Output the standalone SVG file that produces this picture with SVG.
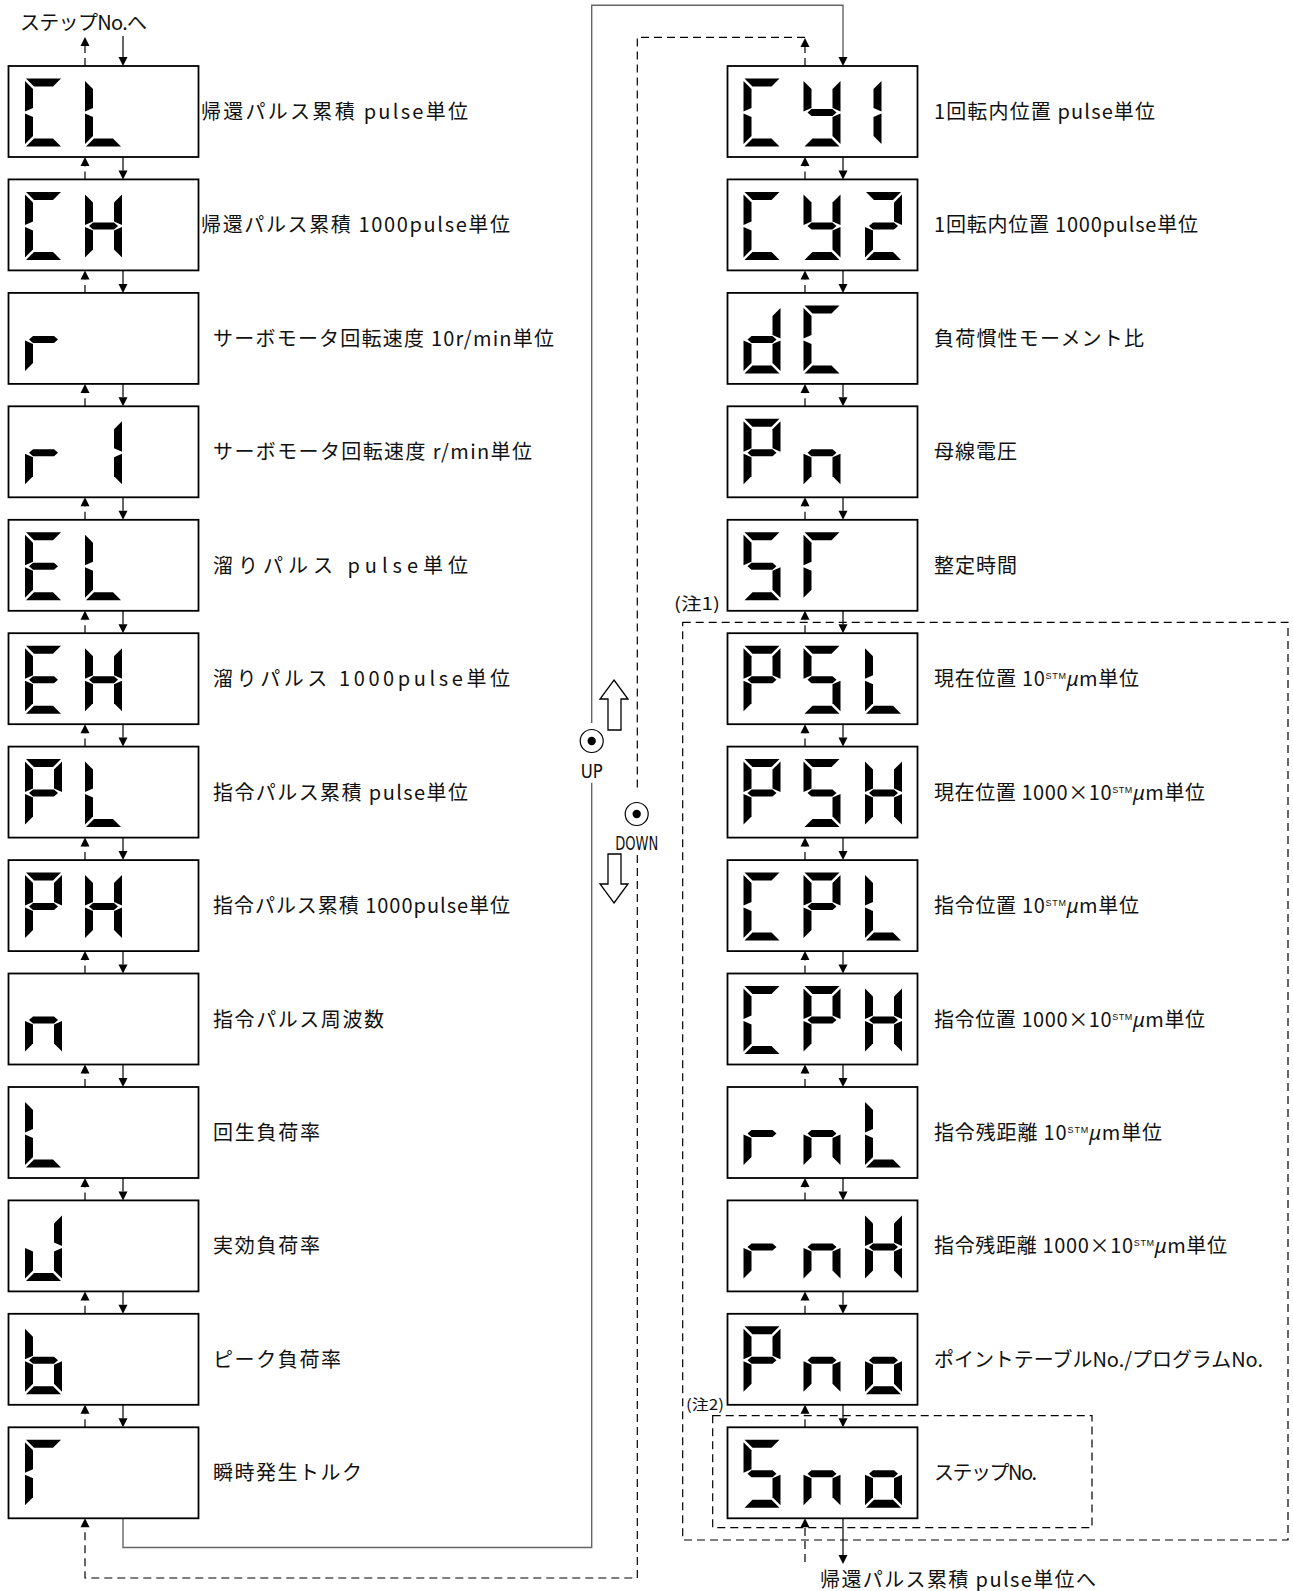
<svg xmlns="http://www.w3.org/2000/svg" xmlns:xlink="http://www.w3.org/1999/xlink" width="1293" height="1591" viewBox="0 0 1293 1591">
<style>
.box{fill:#fff;stroke:#000;stroke-width:1.8}
.lbl{font-family:'Noto Sans CJK JP','Noto Sans',sans-serif;font-size:20px;fill:#111}
.sup{font-family:'Liberation Sans',sans-serif;font-size:9px}
.mu{font-family:'Noto Sans','DejaVu Sans',sans-serif;font-style:italic}
.key{font-family:'DejaVu Sans Condensed','Liberation Sans Narrow','Liberation Sans',sans-serif;font-size:20px;fill:#111}
.note{font-family:'Noto Sans CJK JP',sans-serif;fill:#111}
.dash{fill:none;stroke:#000;stroke-width:1.2;stroke-dasharray:8 5}
.sol{fill:none;stroke:#000;stroke-width:1.2}
.loop{fill:none;stroke:#666;stroke-width:1.4}
.ah{fill:#000}
</style>
<defs>
<polygon id="sa" points="1,0 36,0 28,8 9,8"/>
<polygon id="sb" points="37,2.5 37,33 29,29.5 29,10.5"/>
<polygon id="sc" points="37,35 37,65.5 29,57.5 29,38.5"/>
<polygon id="sd" points="9,60 28,60 36,68 1,68"/>
<polygon id="se" points="0,35 8,38.5 8,57.5 0,65.5"/>
<polygon id="sf" points="0,2.5 8,10.5 8,29.5 0,33"/>
<polygon id="sg" points="4,34 8,30.5 29,30.5 33,34 29,37.5 8,37.5"/>
<g id="cC"><use href="#sa"/><use href="#sf"/><use href="#se"/><use href="#sd"/></g>
<g id="cL"><use href="#sf"/><use href="#se"/><use href="#sd"/></g>
<g id="cH"><use href="#sf"/><use href="#se"/><use href="#sb"/><use href="#sc"/><use href="#sg"/></g>
<g id="cr"><use href="#se"/><use href="#sg"/></g>
<g id="c1"><use href="#sb"/><use href="#sc"/></g>
<g id="cE"><use href="#sa"/><use href="#sf"/><use href="#sg"/><use href="#se"/><use href="#sd"/></g>
<g id="cP"><use href="#sa"/><use href="#sb"/><use href="#sf"/><use href="#sg"/><use href="#se"/></g>
<g id="cn"><use href="#sc"/><use href="#se"/><use href="#sg"/></g>
<g id="cJ"><use href="#sb"/><use href="#sc"/><use href="#sd"/><use href="#se"/></g>
<g id="cb"><use href="#sf"/><use href="#se"/><use href="#sd"/><use href="#sc"/><use href="#sg"/></g>
<g id="cT"><use href="#sa"/><use href="#sf"/><use href="#se"/></g>
<g id="cy"><use href="#sf"/><use href="#sb"/><use href="#sg"/><use href="#sc"/><use href="#sd"/></g>
<g id="c2"><use href="#sa"/><use href="#sb"/><use href="#sg"/><use href="#se"/><use href="#sd"/></g>
<g id="cd"><use href="#sb"/><use href="#sc"/><use href="#sd"/><use href="#se"/><use href="#sg"/></g>
<g id="cS"><use href="#sa"/><use href="#sf"/><use href="#sg"/><use href="#sc"/><use href="#sd"/></g>
<g id="co"><use href="#sc"/><use href="#sd"/><use href="#se"/><use href="#sg"/></g>
<polygon id="au" points="0,0 -4.5,9 4.5,9"/>
<polygon id="ad" points="0,0 -4.5,-9 4.5,-9"/>
</defs>
<rect width="1293" height="1591" fill="#fff"/>

<!-- note frames -->
<g id="note1">
<rect x="682.7" y="622.3" width="605.3" height="917.7" class="dash" stroke-width="1.1"/>
<text class="note" x="674" y="609.5" font-size="17" textLength="46" lengthAdjust="spacingAndGlyphs">(注1)</text>
</g>
<g id="note2">
<rect x="712.7" y="1415.7" width="379.3" height="112" class="dash" stroke-width="1.1"/>
<text class="note" x="686" y="1410" font-size="15" textLength="38" lengthAdjust="spacingAndGlyphs">(注2)</text>
</g>

<!-- connectors -->
<g id="connectors">
<path class="loop" d="M123,1518.3V1547.5H591.7V782.7M591.7,723V5.3H843V57"/>
<path class="dash" d="M805,66V47M805,37.3H637.3V792M637.3,855V1578H85V1527.3"/>
<path class="dash" d="M85,66V46M805,1562V1527.3"/>
<path class="sol" d="M123,36V57M843,1518.3V1555"/>
<path class="dash" d="M85,179.4V166M85,292.9V279.4M85,406.3V392.9M85,519.8V506.3M85,633.2V619.8M85,746.6V733.2M85,860.1V846.6M85,973.5V960.1M85,1087V1073.5M85,1200.4V1187M85,1313.8V1300.4M85,1427.3V1413.8
M805,179.4V166M805,292.9V279.4M805,406.3V392.9M805,519.8V506.3M805,633.2V619.8M805,746.6V733.2M805,860.1V846.6M805,973.5V960.1M805,1087V1073.5M805,1200.4V1187M805,1313.8V1300.4M805,1427.3V1413.8"/>
<path class="sol" d="M123,157V170.4M123,270.4V283.9M123,383.9V397.3M123,497.3V510.8M123,610.8V624.2M123,724.2V737.6M123,837.6V851.1M123,951.1V964.5M123,1064.5V1078M123,1178V1191.4M123,1291.4V1304.8M123,1404.8V1418.3
M843,157V170.4M843,270.4V283.9M843,383.9V397.3M843,497.3V510.8M843,610.8V624.2M843,724.2V737.6M843,837.6V851.1M843,951.1V964.5M843,1064.5V1078M843,1178V1191.4M843,1291.4V1304.8M843,1404.8V1418.3"/>
<g class="ah">
<use href="#au" x="85" y="37"/><use href="#au" x="805" y="38"/><use href="#au" x="85" y="1518.3"/><use href="#au" x="805" y="1518.3"/>
<use href="#ad" x="123" y="66"/><use href="#ad" x="843" y="66"/><use href="#ad" x="843" y="1564"/>
<use href="#au" x="85" y="157"/><use href="#au" x="85" y="270.4"/><use href="#au" x="85" y="383.9"/><use href="#au" x="85" y="497.3"/><use href="#au" x="85" y="610.8"/><use href="#au" x="85" y="724.2"/><use href="#au" x="85" y="837.6"/><use href="#au" x="85" y="951.1"/><use href="#au" x="85" y="1064.5"/><use href="#au" x="85" y="1178"/><use href="#au" x="85" y="1291.4"/><use href="#au" x="85" y="1404.8"/>
<use href="#au" x="805" y="157"/><use href="#au" x="805" y="270.4"/><use href="#au" x="805" y="383.9"/><use href="#au" x="805" y="497.3"/><use href="#au" x="805" y="610.8"/><use href="#au" x="805" y="724.2"/><use href="#au" x="805" y="837.6"/><use href="#au" x="805" y="951.1"/><use href="#au" x="805" y="1064.5"/><use href="#au" x="805" y="1178"/><use href="#au" x="805" y="1291.4"/><use href="#au" x="805" y="1404.8"/>
<use href="#ad" x="123" y="179.4"/><use href="#ad" x="123" y="292.9"/><use href="#ad" x="123" y="406.3"/><use href="#ad" x="123" y="519.8"/><use href="#ad" x="123" y="633.2"/><use href="#ad" x="123" y="746.6"/><use href="#ad" x="123" y="860.1"/><use href="#ad" x="123" y="973.5"/><use href="#ad" x="123" y="1087"/><use href="#ad" x="123" y="1200.4"/><use href="#ad" x="123" y="1313.8"/><use href="#ad" x="123" y="1427.3"/>
<use href="#ad" x="843" y="179.4"/><use href="#ad" x="843" y="292.9"/><use href="#ad" x="843" y="406.3"/><use href="#ad" x="843" y="519.8"/><use href="#ad" x="843" y="633.2"/><use href="#ad" x="843" y="746.6"/><use href="#ad" x="843" y="860.1"/><use href="#ad" x="843" y="973.5"/><use href="#ad" x="843" y="1087"/><use href="#ad" x="843" y="1200.4"/><use href="#ad" x="843" y="1313.8"/><use href="#ad" x="843" y="1427.3"/>
</g>
<text class="lbl" x="20" y="29.5" textLength="127" lengthAdjust="spacing">ステップNo.へ</text>
<text class="lbl" x="820" y="1587" textLength="276" lengthAdjust="spacing">帰還パルス累積 pulse単位へ</text>
</g>

<!-- UP / DOWN keys -->
<g id="keys">
<circle cx="591.7" cy="741" r="11.5" fill="#fff" stroke="#000" stroke-width="1.2"/>
<circle cx="591.7" cy="741" r="4.2" fill="#000"/>
<text class="key" x="591.7" y="777.5" text-anchor="middle" textLength="22" lengthAdjust="spacingAndGlyphs">UP</text>
<circle cx="636.7" cy="814" r="11.5" fill="#fff" stroke="#000" stroke-width="1.2"/>
<circle cx="636.7" cy="814" r="4.2" fill="#000"/>
<text class="key" x="636.7" y="850" text-anchor="middle" textLength="43" lengthAdjust="spacingAndGlyphs">DOWN</text>
<polygon points="614,680 628,699 621,699 621,730 608,730 608,699 600,699" fill="#fff" stroke="#000" stroke-width="1.3"/>
<polygon points="614,903 628,884 621,884 621,854 608,854 608,884 600,884" fill="#fff" stroke="#000" stroke-width="1.3"/>
</g>

<!-- left column -->
<g id="L01" transform="translate(8.5,66)"><rect class="box" width="190" height="91"/><use href="#cC" x="16.5" y="12.5"/><use href="#cL" x="76.5" y="12.5"/><text class="lbl" x="192.5" y="53" textLength="267" lengthAdjust="spacing">帰還パルス累積 pulse単位</text></g>
<g id="L02" transform="translate(8.5,179.4)"><rect class="box" width="190" height="91"/><use href="#cC" x="16.5" y="12.5"/><use href="#cH" x="76.5" y="12.5"/><text class="lbl" x="192.5" y="53" textLength="309" lengthAdjust="spacing">帰還パルス累積 1000pulse単位</text></g>
<g id="L03" transform="translate(8.5,292.9)"><rect class="box" width="190" height="91"/><use href="#cr" x="16.5" y="12.5"/><text class="lbl" x="204.5" y="53" textLength="341" lengthAdjust="spacing">サーボモータ回転速度 10r/min単位</text></g>
<g id="L04" transform="translate(8.5,406.3)"><rect class="box" width="190" height="91"/><use href="#cr" x="16.5" y="12.5"/><use href="#c1" x="76.5" y="12.5"/><text class="lbl" x="204.5" y="53" textLength="319" lengthAdjust="spacing">サーボモータ回転速度 r/min単位</text></g>
<g id="L05" transform="translate(8.5,519.8)"><rect class="box" width="190" height="91"/><use href="#cE" x="16.5" y="12.5"/><use href="#cL" x="76.5" y="12.5"/><text class="lbl" x="204.5" y="53" textLength="255" lengthAdjust="spacing">溜りパルス pulse単位</text></g>
<g id="L06" transform="translate(8.5,633.2)"><rect class="box" width="190" height="91"/><use href="#cE" x="16.5" y="12.5"/><use href="#cH" x="76.5" y="12.5"/><text class="lbl" x="204.5" y="53" textLength="297" lengthAdjust="spacing">溜りパルス 1000pulse単位</text></g>
<g id="L07" transform="translate(8.5,746.6)"><rect class="box" width="190" height="91"/><use href="#cP" x="16.5" y="12.5"/><use href="#cL" x="76.5" y="12.5"/><text class="lbl" x="204.5" y="53" textLength="255" lengthAdjust="spacing">指令パルス累積 pulse単位</text></g>
<g id="L08" transform="translate(8.5,860.1)"><rect class="box" width="190" height="91"/><use href="#cP" x="16.5" y="12.5"/><use href="#cH" x="76.5" y="12.5"/><text class="lbl" x="204.5" y="53" textLength="297" lengthAdjust="spacing">指令パルス累積 1000pulse単位</text></g>
<g id="L09" transform="translate(8.5,973.5)"><rect class="box" width="190" height="91"/><use href="#cn" x="16.5" y="12.5"/><text class="lbl" x="204.5" y="53" textLength="171" lengthAdjust="spacing">指令パルス周波数</text></g>
<g id="L10" transform="translate(8.5,1087)"><rect class="box" width="190" height="91"/><use href="#cL" x="16.5" y="12.5"/><text class="lbl" x="204.5" y="53" textLength="107" lengthAdjust="spacing">回生負荷率</text></g>
<g id="L11" transform="translate(8.5,1200.4)"><rect class="box" width="190" height="91"/><use href="#cJ" x="16.5" y="12.5"/><text class="lbl" x="204.5" y="53" textLength="107" lengthAdjust="spacing">実効負荷率</text></g>
<g id="L12" transform="translate(8.5,1313.8)"><rect class="box" width="190" height="91"/><use href="#cb" x="16.5" y="12.5"/><text class="lbl" x="204.5" y="53" textLength="128" lengthAdjust="spacing">ピーク負荷率</text></g>
<g id="L13" transform="translate(8.5,1427.3)"><rect class="box" width="190" height="91"/><use href="#cT" x="16.5" y="12.5"/><text class="lbl" x="204.5" y="53" textLength="149" lengthAdjust="spacing">瞬時発生トルク</text></g>

<!-- right column -->
<g id="R01" transform="translate(727.5,66)"><rect class="box" width="190" height="91"/><use href="#cC" x="16" y="12.5"/><use href="#cy" x="76" y="12.5"/><use href="#c1" x="117" y="12.5"/><text class="lbl" x="206.5" y="53" textLength="221" lengthAdjust="spacing">1回転内位置 pulse単位</text></g>
<g id="R02" transform="translate(727.5,179.4)"><rect class="box" width="190" height="91"/><use href="#cC" x="16" y="12.5"/><use href="#cy" x="76" y="12.5"/><use href="#c2" x="137.5" y="12.5"/><text class="lbl" x="206.5" y="53" textLength="264" lengthAdjust="spacing">1回転内位置 1000pulse単位</text></g>
<g id="R03" transform="translate(727.5,292.9)"><rect class="box" width="190" height="91"/><use href="#cd" x="16" y="12.5"/><use href="#cC" x="76" y="12.5"/><text class="lbl" x="206.5" y="53" textLength="210" lengthAdjust="spacing">負荷慣性モーメント比</text></g>
<g id="R04" transform="translate(727.5,406.3)"><rect class="box" width="190" height="91"/><use href="#cP" x="16" y="12.5"/><use href="#cn" x="76" y="12.5"/><text class="lbl" x="206.5" y="53" textLength="83" lengthAdjust="spacing">母線電圧</text></g>
<g id="R05" transform="translate(727.5,519.8)"><rect class="box" width="190" height="91"/><use href="#cS" x="16" y="12.5"/><use href="#cT" x="76" y="12.5"/><text class="lbl" x="206.5" y="53" textLength="83" lengthAdjust="spacing">整定時間</text></g>
<g id="R06" transform="translate(727.5,633.2)"><rect class="box" width="190" height="91"/><use href="#cP" x="16" y="12.5"/><use href="#cS" x="76" y="12.5"/><use href="#cL" x="137.5" y="12.5"/><text class="lbl" x="206.5" y="53" textLength="205" lengthAdjust="spacing">現在位置 10<tspan class="sup" dy="-7">STM</tspan><tspan class="mu" dy="7">μ</tspan>m単位</text></g>
<g id="R07" transform="translate(727.5,746.6)"><rect class="box" width="190" height="91"/><use href="#cP" x="16" y="12.5"/><use href="#cS" x="76" y="12.5"/><use href="#cH" x="137.5" y="12.5"/><text class="lbl" x="206.5" y="53" textLength="271" lengthAdjust="spacing">現在位置 1000×10<tspan class="sup" dy="-7">STM</tspan><tspan class="mu" dy="7">μ</tspan>m単位</text></g>
<g id="R08" transform="translate(727.5,860.1)"><rect class="box" width="190" height="91"/><use href="#cC" x="16" y="12.5"/><use href="#cP" x="76" y="12.5"/><use href="#cL" x="137.5" y="12.5"/><text class="lbl" x="206.5" y="53" textLength="205" lengthAdjust="spacing">指令位置 10<tspan class="sup" dy="-7">STM</tspan><tspan class="mu" dy="7">μ</tspan>m単位</text></g>
<g id="R09" transform="translate(727.5,973.5)"><rect class="box" width="190" height="91"/><use href="#cC" x="16" y="12.5"/><use href="#cP" x="76" y="12.5"/><use href="#cH" x="137.5" y="12.5"/><text class="lbl" x="206.5" y="53" textLength="271" lengthAdjust="spacing">指令位置 1000×10<tspan class="sup" dy="-7">STM</tspan><tspan class="mu" dy="7">μ</tspan>m単位</text></g>
<g id="R10" transform="translate(727.5,1087)"><rect class="box" width="190" height="91"/><use href="#cr" x="16" y="12.5"/><use href="#cn" x="76" y="12.5"/><use href="#cL" x="137.5" y="12.5"/><text class="lbl" x="206.5" y="53" textLength="228" lengthAdjust="spacing">指令残距離 10<tspan class="sup" dy="-7">STM</tspan><tspan class="mu" dy="7">μ</tspan>m単位</text></g>
<g id="R11" transform="translate(727.5,1200.4)"><rect class="box" width="190" height="91"/><use href="#cr" x="16" y="12.5"/><use href="#cn" x="76" y="12.5"/><use href="#cH" x="137.5" y="12.5"/><text class="lbl" x="206.5" y="53" textLength="293" lengthAdjust="spacing">指令残距離 1000×10<tspan class="sup" dy="-7">STM</tspan><tspan class="mu" dy="7">μ</tspan>m単位</text></g>
<g id="R12" transform="translate(727.5,1313.8)"><rect class="box" width="190" height="91"/><use href="#cP" x="16" y="12.5"/><use href="#cn" x="76" y="12.5"/><use href="#co" x="137.5" y="12.5"/><text class="lbl" x="206.5" y="53" textLength="329" lengthAdjust="spacing">ポイントテーブルNo./プログラムNo.</text></g>
<g id="R13" transform="translate(727.5,1427.3)"><rect class="box" width="190" height="91"/><use href="#cS" x="16" y="12.5"/><use href="#cn" x="76" y="12.5"/><use href="#co" x="137.5" y="12.5"/><text class="lbl" x="206.5" y="53" textLength="103" lengthAdjust="spacing">ステップNo.</text></g>
</svg>
